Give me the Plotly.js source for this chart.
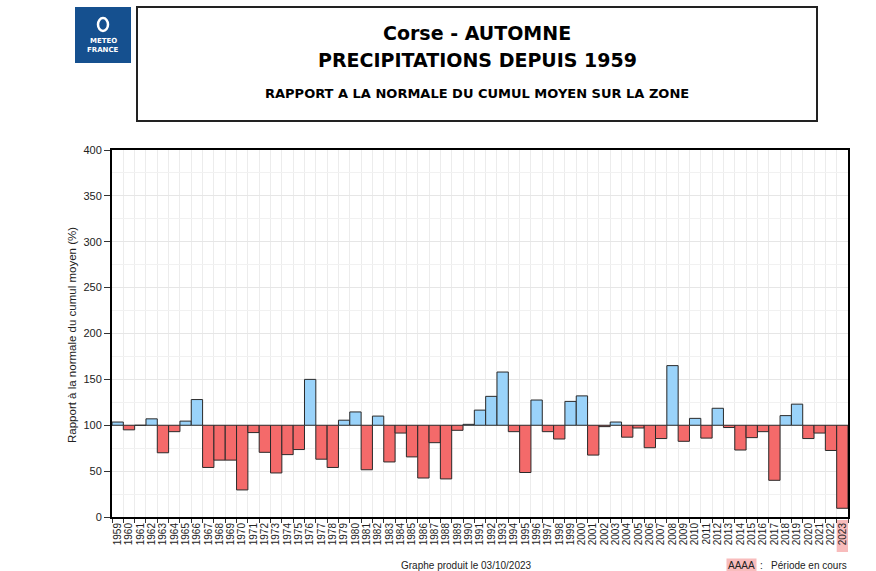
<!DOCTYPE html>
<html>
<head>
<meta charset="utf-8">
<script src="https://cdn.plot.ly/plotly-3.0.1.min.js"></script>
<style>html,body{margin:0;padding:0;background:#fff;}#chart{width:876px;height:571px;}</style>
</head>
<body>
<div id="chart"></div>
<script>
const years = [1959,1960,1961,1962,1963,1964,1965,1966,1967,1968,1969,1970,1971,1972,1973,1974,1975,1976,1977,1978,1979,1980,1981,1982,1983,1984,1985,1986,1987,1988,1989,1990,1991,1992,1993,1994,1995,1996,1997,1998,1999,2000,2001,2002,2003,2004,2005,2006,2007,2008,2009,2010,2011,2012,2013,2014,2015,2016,2017,2018,2019,2020,2021,2022,2023];
const ratio = [103.5,95,100,107,70,93,104.5,128,54,62,62,29.5,92,70.5,48,68,73.5,150,63,54,105.5,114.5,51.5,110,60,91.5,65.5,42.5,81,41.5,94.5,101,116.5,131.5,158,93,48.5,127.5,93,85,126,132,67.5,98.5,103.5,87,97,75.5,85.5,165,82.5,107.5,86,118.5,97.5,73,86.5,93,40,110.5,123,85.5,91.5,72.5,9.5];
const tickLabels = years.map(String);
const normale = 100;
const currentYear = 2023;
const yTicks = [0,50,100,150,200,250,300,350,400];

const colors = ratio.map(v => v >= normale ? '#9ad3fa' : '#f46a6a');
const trace = {
  type: 'bar',
  x: years,
  y: ratio.map(v => v - normale),
  base: normale,
  width: 1,
  marker: {color: colors, line: {color: '#2a2a2a', width: 1}},
  hoverinfo: 'x+y'
};

const PW = 736, PH = 367, L = 112, T = 150;
const px = v => (v - L) / PW;
const py = v => (T + PH - v) / PH;
const ann = (text, x, y, font, extra) => Object.assign({text, xref: 'paper', yref: 'paper', x: px(x), y: py(y), xanchor: 'center', yanchor: 'middle', showarrow: false, font}, extra || {});

const layout = {
  width: 876, height: 571,
  margin: {l: L, r: 876 - L - PW, t: T, b: 571 - T - PH, pad: 0},
  paper_bgcolor: '#ffffff', plot_bgcolor: '#ffffff',
  showlegend: false,
  font: {family: 'Liberation Sans, Arial, sans-serif', color: '#222', size: 11},
  bargap: 0,
  xaxis: {
    range: [years[0] - 0.5, years[years.length - 1] + 0.5],
    tickmode: 'array', tickvals: years, ticktext: tickLabels,
    tickangle: -90, tickfont: {size: 10, color: '#222'},
    ticks: '', showgrid: false, zeroline: false,
    showline: true, linecolor: '#000', linewidth: 2, mirror: true,
    minor: {tickmode: 'linear', tick0: years[0] - 0.5, dtick: 1, ticks: 'outside', ticklen: 4, tickcolor: '#333', showgrid: true, gridcolor: '#ececec', gridwidth: 1},
    fixedrange: true
  },
  yaxis: {
    range: [0, 400], tickmode: 'array', tickvals: yTicks,
    ticks: 'outside', ticklen: 6, tickcolor: '#333',
    tickfont: {size: 11, color: '#222'},
    showgrid: true, gridcolor: '#e6e6e6', zeroline: false,
    showline: true, linecolor: '#000', linewidth: 2, mirror: true,
    minor: {tickmode: 'linear', tick0: 0, dtick: 25, ticks: '', showgrid: true, gridcolor: '#f1f1f1'},
    fixedrange: true
  },
  shapes: [
    {type: 'rect', xref: 'paper', yref: 'paper', x0: px(137), x1: px(817), y0: py(121), y1: py(7), line: {color: '#222', width: 2}, fillcolor: 'rgba(0,0,0,0)', layer: 'above'},
    {type: 'rect', xref: 'paper', yref: 'paper', x0: px(75), x1: px(131), y0: py(63), y1: py(7), line: {width: 0}, fillcolor: '#15508f', layer: 'above'},
    {type: 'circle', xref: 'paper', yref: 'paper', x0: px(98), x1: px(108), y0: py(31), y1: py(18), line: {color: '#ffffff', width: 2.5}, fillcolor: 'rgba(0,0,0,0)', layer: 'above'},
    {type: 'rect', xref: 'x', yref: 'paper', x0: currentYear - 0.5, x1: currentYear + 0.5, y0: py(552), y1: py(520), line: {width: 0}, fillcolor: '#f8bcbc', layer: 'below'}
  ],
  annotations: [
    ann('METEO', 103, 41, {family: 'DejaVu Sans, sans-serif', size: 7, color: '#fff', weight: 'bold'}),
    ann('FRANCE', 103, 50, {family: 'DejaVu Sans, sans-serif', size: 7, color: '#fff', weight: 'bold'}),
    ann('Corse - AUTOMNE', 477, 33, {family: 'DejaVu Sans, sans-serif', size: 19, color: '#000', weight: 'bold'}),
    ann('PRECIPITATIONS DEPUIS 1959', 477, 60, {family: 'DejaVu Sans, sans-serif', size: 19, color: '#000', weight: 'bold'}),
    ann('RAPPORT A LA NORMALE DU CUMUL MOYEN SUR LA ZONE', 477, 93, {family: 'DejaVu Sans, sans-serif', size: 13, color: '#000', weight: 'bold'}),
    ann('Rapport à la normale du cumul moyen (%)', 72, 335, {size: 11.5, color: '#222'}, {textangle: -90}),
    ann('Graphe produit le 03/10/2023', 466, 565, {size: 10, color: '#222'}),
    ann('AAAA', 741, 565, {size: 10, color: '#222'}, {bgcolor: '#f8bcbc', borderpad: 1}),
    ann(':   Période en cours', 849, 565, {size: 10, color: '#222'}, {xanchor: 'right'})
  ]
};

Plotly.newPlot('chart', [trace], layout, {displayModeBar: false, staticPlot: true});
</script>
</body>
</html>
